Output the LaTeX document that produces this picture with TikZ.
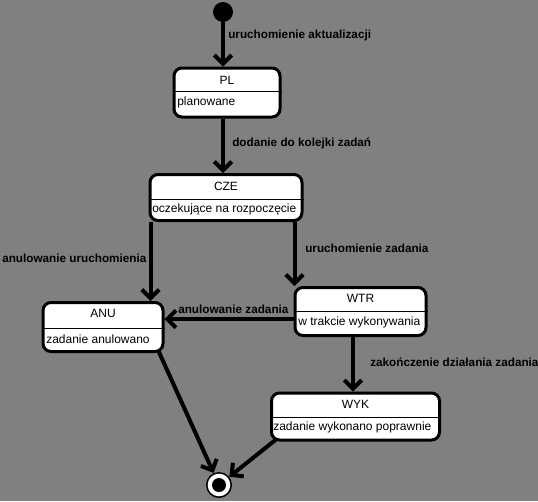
\documentclass[tikz,border=0pt]{standalone}
\usepackage{fontspec}
\setmainfont{Liberation Sans}
\usetikzlibrary{positioning,arrows.meta,calc}
\definecolor{bggray}{RGB}{128,128,128}

\tikzset{
  stbox/.style={draw=black, fill=white, line width=2.25pt, rounded corners=6pt, inner sep=0pt},
  stdiv/.style={black, line width=0.75pt},
  sttitle/.style={font=\fontsize{9}{10}\selectfont, inner sep=0pt},
  stdesc/.style={font=\fontsize{9}{10}\selectfont, inner sep=0pt, anchor=west},
  trans/.style={line width=3pt, -{Straight Barb[length=6.5pt,width=13pt]}},
  lbl/.style={font=\fontsize{8.8}{10}\bfseries\selectfont, inner sep=0pt, anchor=west}
}

\begin{document}
\begin{tikzpicture}[x=0.75pt, y=-0.75pt]
        \useasboundingbox (0,0) rectangle (538,501);
        \fill[bggray] (0,0) rectangle (538,501);
        % states
        \node[circle, fill=black, minimum size=15pt, inner sep=0pt] (init) at (223,12) {};
        \node[stbox, minimum width=79.5pt, minimum height=36.75pt] (pl) at (227,92.5) {};
        \draw[stdiv] (pl.west |- 0,91) -- (pl.east |- 0,91);
        \node[sttitle] (pl-t) at (227,80) {PL};
        \node[stdesc] (pl-d) at (177,102) {planowane};
        \node[stbox, minimum width=114pt, minimum height=34.5pt] (cze) at (226,197.5) {};
        \draw[stdiv] (cze.west |- 0,199) -- (cze.east |- 0,199);
        \node[sttitle] (cze-t) at (226,186) {CZE};
        \node[stdesc] (cze-d) at (152,209.5) {oczekujące na rozpoczęcie};
        \node[stbox, minimum width=90pt, minimum height=36.75pt] (anu) at (103,327) {};
        \draw[stdiv] (anu.west |- 0,328) -- (anu.east |- 0,328);
        \node[sttitle] (anu-t) at (103,313) {ANU};
        \node[stdesc] (anu-d) at (46,339.5) {zadanie anulowano};
        \node[stbox, minimum width=98.25pt, minimum height=36pt] (wtr) at (360.5,311.5) {};
        \draw[stdiv] (wtr.west |- 0,311) -- (wtr.east |- 0,311);
        \node[sttitle] (wtr-t) at (360.5,298.5) {WTR};
        \node[stdesc] (wtr-d) at (298,322.5) {w trakcie wykonywania};
        \node[stbox, minimum width=126pt, minimum height=35.25pt] (wyk) at (355.5,416.5) {};
        \draw[stdiv] (wyk.west |- 0,417) -- (wyk.east |- 0,417);
        \node[sttitle] (wyk-t) at (355.5,404) {WYK};
        \node[stdesc] (wyk-d) at (273,427.5) {zadanie wykonano poprawnie};
        \node[circle, fill=black, minimum size=19.5pt, inner sep=0pt] (fin) at (219,485) {};
        \fill[white] (fin) circle (8.5pt);
        \fill[black] (fin) circle (5.25pt);
        % transitions
        \coordinate (c1) at ($(cze.south west)+(2,0)$);
        \coordinate (c2) at ($(wtr.north west)+(1,0)$);
        \coordinate (c3) at ($(wtr.west)+(0,7.5)$);
        \coordinate (c4) at ($(wyk.north)+(-2.5,0)$);
        \draw[trans] (init) -- (init |- pl.north);
        \draw[trans] (pl.south -| init) -- (cze.north -| init);
        \draw[trans] (c1) -- (c1 |- anu.north);
        \draw[trans] (c2 |- cze.south) -- (c2);
        \draw[trans] (c3) -- (c3 -| anu.east);
        \draw[trans] (c4 |- wtr.south) -- (c4);
        \draw[trans] ($(anu.south east)+(-6,-2)$) -- (fin);
        \draw[trans] ($(wyk.south west)+(6,-2)$) -- (fin);
        % labels
        \node[lbl] (l1) at (228,35) {uruchomienie aktualizacji};
        \node[lbl] (l2) at (232,143) {dodanie do kolejki zadań};
        \node[lbl] (l3) at (2,258) {anulowanie uruchomienia};
        \node[lbl] (l4) at (305,248) {uruchomienie zadania};
        \node[lbl] (l5) at (178,309) {anulowanie zadania};
        \node[lbl] (l6) at (370,362) {zakończenie działania zadania};
\end{tikzpicture}
\end{document}
